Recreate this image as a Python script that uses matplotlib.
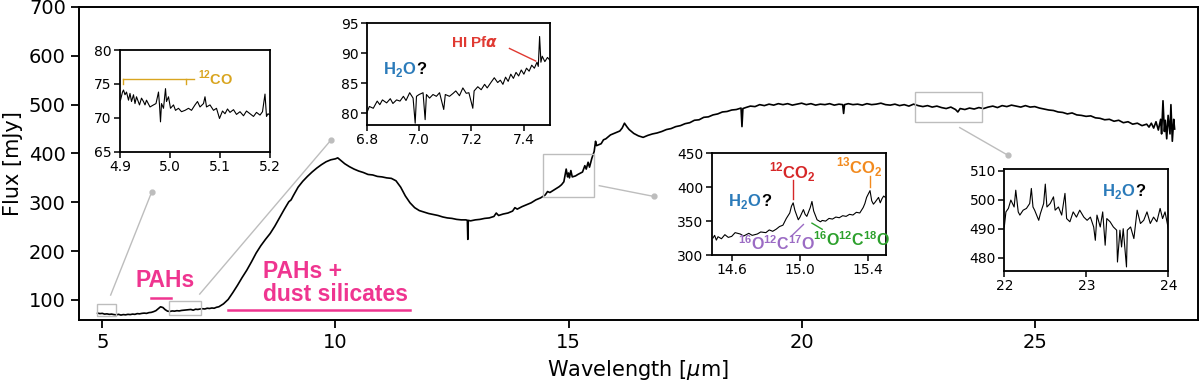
import matplotlib
matplotlib.use('Agg')
import matplotlib.pyplot as plt
from matplotlib.patches import Rectangle
import numpy as np

# ---------------------------------------------------------------- main spectrum
wave = [4.90, 4.95, 5.00, 5.05, 5.10, 5.15, 5.20, 5.25, 5.30, 5.35, 5.40, 5.45, 5.50, 5.55,
        5.60, 5.65, 5.70, 5.75, 5.80, 5.85, 5.90, 5.95, 6.00, 6.05, 6.10, 6.15, 6.20, 6.25,
        6.30, 6.35, 6.40, 6.45, 6.50, 6.55, 6.60, 6.65, 6.70, 6.75, 6.80, 6.85, 6.90, 6.95,
        7.00, 7.05, 7.10, 7.15, 7.20, 7.25, 7.30, 7.35, 7.40, 7.45, 7.50, 7.55, 7.60,
        7.7, 7.8, 7.9, 8.0, 8.1, 8.2, 8.3, 8.4, 8.5, 8.6, 8.7, 8.8, 8.9, 9.0, 9.05, 9.1, 9.2,
        9.3, 9.4, 9.5, 9.6, 9.7, 9.8, 9.9, 10.0, 10.05, 10.1, 10.2, 10.3, 10.4, 10.5, 10.6,
        10.7, 10.8, 10.9, 11.0, 11.1, 11.2, 11.3, 11.4, 11.5, 11.6,
        11.7, 11.8, 11.9, 12.0, 12.1, 12.2, 12.3, 12.4, 12.5, 12.6, 12.7, 12.8, 12.83, 12.84,
        12.85, 12.9, 13.0, 13.1, 13.2, 13.3, 13.4, 13.45, 13.5, 13.6, 13.7, 13.8, 13.85, 13.9,
        14.0, 14.1, 14.2, 14.3, 14.4, 14.5, 14.55, 14.6, 14.7, 14.8, 14.85, 14.9, 14.95, 14.98,
        15.0, 15.02, 15.05, 15.08, 15.15, 15.2, 15.3, 15.35, 15.38, 15.42, 15.45, 15.5, 15.55,
        15.58, 15.6, 15.7, 15.75, 15.8, 15.9, 16.0, 16.1, 16.15, 16.2, 16.25, 16.3, 16.4, 16.5,
        16.6, 16.7, 16.8, 16.9, 17.0, 17.1, 17.2, 17.3, 17.4, 17.5, 17.6, 17.7, 17.8, 17.9,
        18.0, 18.1, 18.2, 18.3, 18.4, 18.5, 18.6, 18.7, 18.72, 18.74, 18.8, 18.9, 19.0, 19.1,
        19.2, 19.3, 19.4, 19.5, 19.6, 19.7, 19.8, 19.9, 20.0, 20.1, 20.2, 20.3, 20.4, 20.5,
        20.6, 20.7, 20.8, 20.88, 20.9, 20.92, 21.0, 21.1, 21.2, 21.3, 21.4, 21.5, 21.6, 21.7,
        21.8, 21.9, 22.0, 22.1, 22.2, 22.3, 22.4, 22.5, 22.6, 22.7, 22.8, 22.9, 23.0, 23.1,
        23.2, 23.3, 23.35, 23.4, 23.5, 23.6, 23.7, 23.8, 23.9, 24.0, 24.1, 24.2, 24.3, 24.4,
        24.5, 24.6, 24.7, 24.8, 24.9, 25.0, 25.1, 25.2, 25.3, 25.4, 25.5, 25.6, 25.7, 25.8,
        25.9, 26.0, 26.1, 26.2, 26.3, 26.4, 26.5, 26.6, 26.7, 26.8, 26.9, 27.0, 27.1, 27.2,
        27.3, 27.4, 27.45, 27.5, 27.55, 27.6, 27.65, 27.7, 27.72, 27.75, 27.78, 27.8, 27.83,
        27.86, 27.9, 27.92, 27.95, 27.98, 28.0]
flux = [73, 72, 72.5, 71, 71.5, 70.5, 71, 70, 69.5, 70.5, 69, 70, 69.5, 70.5,
        70, 71, 70.5, 72, 71.5, 72.5, 73, 72.5, 74, 74.5, 76, 78, 82, 86,
        84.5, 80, 77, 76.5, 77.5, 77, 78, 77.5, 78.5, 79, 79.5, 80, 80.5, 79,
        81, 80.5, 81.5, 82, 81.5, 83, 82.5, 83.5, 83, 85, 86, 89, 92,
        101, 115, 130, 146, 161, 178, 196, 211, 224, 236, 251, 268, 285, 301, 305, 314, 331,
        343, 353, 362, 370, 377, 383, 387, 389, 391, 387, 379, 373, 368, 364, 361,
        357, 356, 353, 352, 350, 349, 344, 331, 313, 299,
        289, 283, 280, 277, 275, 273, 270, 268, 267, 265, 264, 264, 263, 224,
        263, 262, 264, 265, 267, 268, 271, 278, 273, 276, 278, 282, 289, 286,
        291, 295, 299, 305, 309, 315, 322, 320, 326, 332, 336, 342, 368, 352,
        360, 350, 365, 352, 354, 357, 362, 375, 368, 382, 372, 390, 404,
        425, 416, 420, 428, 430, 438, 442, 446, 452, 462, 455, 449, 441, 436,
        433, 437, 440, 442, 445, 449, 451, 455, 457, 461, 463, 468, 469, 474,
        475, 479, 481, 485, 486, 489, 490, 493, 455, 492, 494, 497, 496, 500,
        498, 501, 499, 502, 500, 502, 499, 501, 503, 500, 502, 499, 501, 500,
        502, 499, 501, 500, 482, 500, 502, 500, 501, 499, 502, 500, 501, 503,
        500, 499, 501, 498, 500, 497, 501, 498, 496, 498, 495, 497, 494, 492,
        495, 490, 485, 492, 490, 493, 491, 494, 492, 495, 497, 494, 498, 496,
        499, 497, 495, 498, 495, 496, 493, 491, 489, 488, 485, 484, 481, 483,
        479, 478, 476, 477, 473, 472, 469, 470, 466, 468, 463, 465, 460, 462,
        457, 460, 454, 462, 452, 465, 448, 470, 440, 508, 445, 468, 430,
        478, 440, 500, 425, 470, 450]

# ---------------------------------------------------------------- inset 1: 12CO
co_wave = [4.901, 4.905, 4.907, 4.91, 4.913, 4.917, 4.92, 4.923, 4.927, 4.93, 4.933, 4.939,
           4.943, 4.947, 4.95, 4.953, 4.96, 4.967, 4.972, 4.977, 4.979, 4.981, 4.983, 4.987,
           4.991, 4.993, 4.997, 5.001, 5.007, 5.011, 5.017, 5.023, 5.03, 5.037, 5.043, 5.05,
           5.055, 5.06, 5.067, 5.07, 5.073, 5.08, 5.087, 5.093, 5.099, 5.105, 5.11, 5.115,
           5.12, 5.127, 5.133, 5.14, 5.147, 5.153, 5.16, 5.167, 5.173, 5.18, 5.185, 5.19,
           5.193, 5.196, 5.2]
co_flux = [72.6, 73.8, 74.1, 73.4, 73.8, 72.6, 73.6, 72.4, 73.4, 72.1, 73.1, 71.9,
           72.9, 72.4, 71.9, 72.6, 71.6, 71.9, 72.1, 73.8, 71.9, 69.4, 72.1, 71.4,
           74.3, 72.4, 73.1, 71.4, 71.9, 71.1, 71.4, 70.9, 71.1, 71.4, 71.1, 71.9,
           72.4, 71.6, 72.1, 73.1, 71.6, 71.9, 71.1, 71.4, 69.9, 71.0, 70.6, 71.3,
           70.8, 71.2, 70.5, 70.9, 70.3, 71.0, 70.6, 70.2, 70.8, 70.4, 70.9, 73.5,
           70.2, 70.6, 70.4]

# ---------------------------------------------------------------- inset 2: HI Pf alpha
pf_wave = [6.80, 6.81, 6.825, 6.84, 6.85, 6.86, 6.876, 6.89, 6.90, 6.914, 6.927, 6.94,
           6.95, 6.964, 6.977, 6.985, 6.99, 7.00, 7.015, 7.023, 7.028, 7.04, 7.053, 7.066,
           7.078, 7.094, 7.10, 7.116, 7.13, 7.14, 7.154, 7.167, 7.18, 7.19, 7.205, 7.21,
           7.224, 7.237, 7.25, 7.26, 7.274, 7.287, 7.30, 7.31, 7.32, 7.33, 7.34, 7.35, 7.36,
           7.37, 7.38, 7.39, 7.40, 7.41, 7.42, 7.43, 7.44, 7.45, 7.455, 7.46, 7.465, 7.47,
           7.48, 7.49, 7.50]
pf_flux = [80, 81.1, 80.8, 82, 81.4, 82.2, 81.7, 82.4, 81.6, 82.2, 82, 82.8,
           82.1, 83.4, 82.5, 78.3, 82.8, 83.1, 83.4, 78.9, 83.1, 82.5, 83.1, 82.8,
           83.4, 80.6, 83.1, 82.8, 83.3, 83.7, 82.9, 84.2, 83.3, 83.4, 80.8, 83.7,
           84.4, 83.9, 84.8, 84.2, 85.1, 85.9, 85.1, 85.5, 84.8, 86, 85.3, 86.5, 85.8,
           86.8, 86.2, 87.2, 86.5, 87.5, 87, 88, 87.5, 88.5, 87.8, 92.8, 88.5, 89.5,
           88.6, 89.3, 88.8]

# ---------------------------------------------------------------- inset 3: CO2
co2_wave = [14.49, 14.50, 14.51, 14.52, 14.54, 14.56, 14.58, 14.60, 14.62, 14.65, 14.67,
            14.70, 14.72, 14.75, 14.77, 14.80, 14.82, 14.84, 14.86, 14.88, 14.90, 14.92,
            14.94, 14.95, 14.96, 14.97, 14.99, 15.00, 15.02, 15.03, 15.04, 15.06, 15.07,
            15.08, 15.10, 15.12, 15.13, 15.15, 15.17, 15.19, 15.21, 15.23, 15.25, 15.27,
            15.29, 15.31, 15.33, 15.35, 15.37, 15.38, 15.39, 15.41, 15.42, 15.43, 15.44,
            15.46, 15.47, 15.48, 15.49, 15.50]
co2_flux = [325, 329, 322, 327, 324, 330, 326, 327.5, 333, 331, 328, 332, 329, 331, 334,
            333, 337, 335, 338, 342, 344, 354, 362, 372, 377, 366, 352, 356, 367, 360,
            357, 370, 379, 365, 352, 349, 351, 350, 354, 353, 356, 355, 358, 357, 360,
            359, 363, 362, 370, 376, 385, 395, 380, 375, 378, 385, 377, 383, 387, 385]

# ---------------------------------------------------------------- inset 4: 22-24 um
h2o_wave = [22.0, 22.02, 22.05, 22.08, 22.12, 22.14, 22.17, 22.19, 22.23, 22.27, 22.31,
            22.33, 22.35, 22.37, 22.42, 22.44, 22.48, 22.50, 22.52, 22.56, 22.60, 22.62,
            22.66, 22.70, 22.74, 22.76, 22.80, 22.84, 22.88, 22.92, 22.97, 23.01, 23.05,
            23.09, 23.11, 23.13, 23.17, 23.20, 23.23, 23.25, 23.29, 23.33, 23.37, 23.38,
            23.41, 23.43, 23.45, 23.49, 23.50, 23.54, 23.58, 23.62, 23.66, 23.70, 23.74,
            23.78, 23.82, 23.86, 23.90, 23.93, 23.96, 24.0]
h2o_flux = [490.6, 495.8, 497, 499.9, 497.5, 503.3, 495.8, 494.7, 496.4, 497, 498.7,
            503.9, 497.5, 496.4, 492.9, 495.2, 498.7, 505.4, 497.5, 498.7, 501, 496.4,
            497.5, 494.7, 502.2, 493.5, 492.4, 495.8, 494, 496.4, 494, 492.9, 494,
            490.6, 486, 494.7, 490.6, 495.8, 484.3, 493.5, 492.4, 490.6, 489.5, 478.5,
            489.5, 483.7, 490, 476.8, 489.5, 490.6, 486.6, 496.4, 491.8, 492.9, 495.8,
            491.8, 494, 492.4, 497, 493.5, 495.8, 490]

pink = '#ef3590'
blue = '#2b7bba'
grey = '#bdbdbd'
afont = 'Liberation Sans'

plt.rcParams['font.family'] = 'DejaVu Sans'
plt.rcParams['mathtext.fontset'] = 'dejavusans'
# bold sans maths for the line labels
plt.rcParams['mathtext.rm'] = 'Liberation Sans:bold'
plt.rcParams['mathtext.bf'] = 'Liberation Sans:bold'
plt.rcParams['mathtext.it'] = 'DejaVu Sans:italic:bold'
plt.rcParams['axes.linewidth'] = 1.4
lab = dict(fontweight='bold', family=afont, math_fontfamily='custom')

fig = plt.figure(figsize=(12, 3.8), dpi=100)
ax = fig.add_axes([0.0658, 0.158, 0.9325, 0.8236])

ax.plot(wave, flux, color='black', lw=1.2)
ax.set_xlim(4.5, 28.5)
ax.set_ylim(59, 700)
ax.set_xticks([5, 10, 15, 20, 25])
ax.set_yticks(np.arange(100, 701, 100))
ax.tick_params(labelsize=14, length=6, width=1.3)
ax.set_xlabel('Wavelength [$\\mu$m]', fontsize=15)
ax.set_ylabel('Flux [mJy]', fontsize=15)

# zoom boxes on main spectrum
boxes = [(4.88, 67, 0.41, 25), (6.43, 70, 0.68, 27), (14.46, 310, 1.09, 89), (22.44, 465, 1.43, 60)]
for x0, y0, w, h in boxes:
    ax.add_patch(Rectangle((x0, y0), w, h, fill=False, edgecolor=grey, lw=1.0, zorder=3))

# connector lines
links = [((5.18, 110), (6.06, 321)), ((7.09, 112), (9.91, 428)),
         ((15.66, 334), (16.83, 312)), ((23.39, 453), (24.43, 396))]
for (xa, ya), (xb, yb) in links:
    ax.plot([xa, xb], [ya, yb], color=grey, lw=1.0)
    ax.plot(xb, yb, 'o', color=grey, ms=3.5)

# PAH annotations
ax.text(6.34, 139, 'PAHs', color=pink, fontsize=16.5, ha='center', va='center', **lab)
ax.plot([6.05, 6.48], [103.5, 103.5], color=pink, lw=1.8)
ax.text(8.45, 134, 'PAHs +\ndust silicates', color=pink, fontsize=16.5, ha='left',
        va='center', linespacing=1.0, **lab)
ax.plot([7.7, 11.6], [79.5, 79.5], color=pink, lw=1.8)


def style_inset(a):
    for s in a.spines.values():
        s.set_linewidth(1.3)
    a.tick_params(labelsize=10, length=4, width=1.1, pad=2)


# inset 1 ---------------------------------------------------------------
ax1 = fig.add_axes([0.1, 0.6008, 0.125, 0.2676])
ax1.plot(co_wave, co_flux, color='black', lw=0.8)
ax1.set_xlim(4.9, 5.2)
ax1.set_ylim(65, 80)
ax1.set_xticks([4.9, 5.0, 5.1, 5.2])
ax1.set_yticks([65, 70, 75, 80])
style_inset(ax1)
gold = '#d9a520'
ax1.plot([4.905, 5.048], [75.75, 75.75], color=gold, lw=1.0)
ax1.plot([4.905, 4.905], [75.75, 75.0], color=gold, lw=1.0)
ax1.plot([5.031, 5.031], [75.75, 75.0], color=gold, lw=1.0)
ax1.text(5.055, 75.75, '$^{12}$CO', color=gold, fontsize=10.5, va='center', ha='left', **lab)

# inset 2 ---------------------------------------------------------------
ax2 = fig.add_axes([0.3056, 0.671, 0.1528, 0.2676])
ax2.plot(pf_wave, pf_flux, color='black', lw=0.8)
ax2.set_xlim(6.8, 7.5)
ax2.set_ylim(78, 95)
ax2.set_xticks([6.8, 7.0, 7.2, 7.4])
ax2.set_yticks([80, 85, 90, 95])
style_inset(ax2)
ax2.text(7.12, 91.8, 'HI Pf$\\alpha$', color='#e03a32', fontsize=11, va='center', ha='left', **lab)
ax2.plot([7.345, 7.445], [90.8, 88.7], color='#e03a32', lw=1.0)
ax2.text(6.99, 87.3, 'H$_2$O', color=blue, fontsize=12, va='center', ha='right', **lab)
ax2.text(6.99, 87.3, '?', color='black', fontsize=12, va='center', ha='left', **lab)

# inset 3 ---------------------------------------------------------------
ax3 = fig.add_axes([0.5931, 0.3289, 0.145, 0.2676])
ax3.plot(co2_wave, co2_flux, color='black', lw=0.8)
ax3.set_xlim(14.483, 15.502)
ax3.set_ylim(300, 450)
ax3.set_xticks([14.6, 15.0, 15.4])
ax3.set_yticks([300, 350, 400, 450])
style_inset(ax3)
ax3.text(14.955, 422, '$^{12}$CO$_2$', color='#d62728', fontsize=12, ha='center', va='center', **lab)
ax3.plot([14.96, 14.96], [410, 383], color='#d62728', lw=1.0)
ax3.text(15.35, 430, '$^{13}$CO$_2$', color='#f28a1e', fontsize=12, ha='center', va='center', **lab)
ax3.plot([15.41, 15.41], [417, 400], color='#f28a1e', lw=1.0)
ax3.text(14.775, 379, 'H$_2$O', color=blue, fontsize=12, va='center', ha='right', **lab)
ax3.text(14.775, 379, '?', color='black', fontsize=12, va='center', ha='left', **lab)
ax3.text(14.86, 317, '$^{16}$O$^{12}$C$^{17}$O', color='#9b6bc4', fontsize=11.5,
         ha='center', va='center', **lab)
ax3.plot([14.95, 15.02], [328, 345], color='#9b6bc4', lw=1.0)
ax3.text(15.3, 322, '$^{16}$O$^{12}$C$^{18}$O', color='#2ca02c', fontsize=11.5,
         ha='center', va='center', **lab)
ax3.plot([15.07, 15.13], [347, 338], color='#2ca02c', lw=1.0)

# inset 4 ---------------------------------------------------------------
ax4 = fig.add_axes([0.8369, 0.2876, 0.1367, 0.2668])
ax4.plot(h2o_wave, h2o_flux, color='black', lw=0.8)
ax4.set_xlim(22, 24)
ax4.set_ylim(475.5, 510.5)
ax4.set_xticks([22, 23, 24])
ax4.set_yticks([480, 490, 500, 510])
style_inset(ax4)
ax4.text(23.6, 502.7, 'H$_2$O', color=blue, fontsize=12, va='center', ha='right', **lab)
ax4.text(23.6, 502.7, '?', color='black', fontsize=12, va='center', ha='left', **lab)

plt.savefig('out.png', dpi=100)
